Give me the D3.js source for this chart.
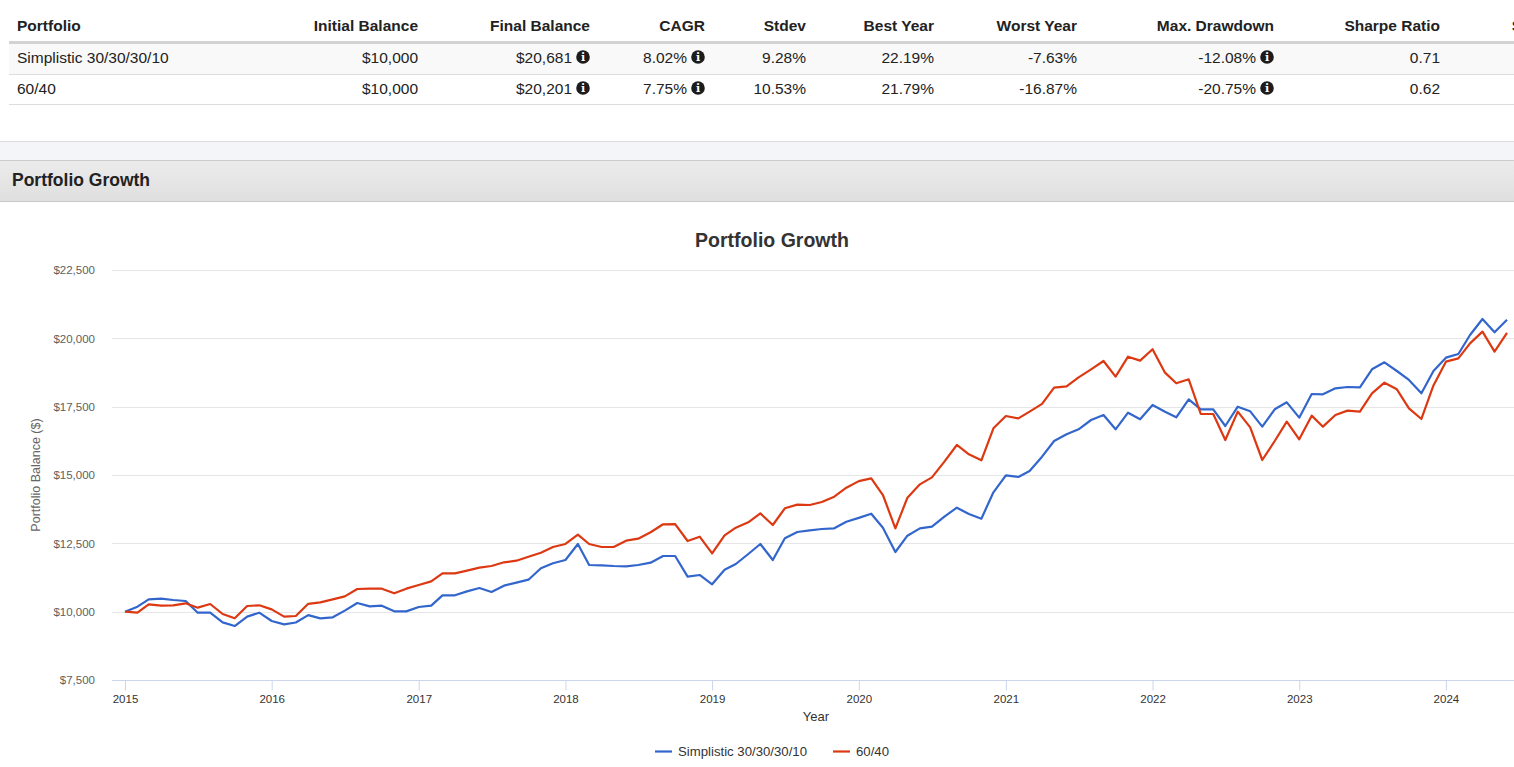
<!DOCTYPE html>
<html><head><meta charset="utf-8">
<script src="https://cdn.jsdelivr.net/npm/d3@7"></script>
<style>
html,body{margin:0;padding:0;background:#fff;overflow:hidden;}
svg{display:block;font-family:"Liberation Sans",Arial,Helvetica,sans-serif;}
</style></head><body>
<svg id="c" width="1514" height="767"></svg>
<script>
// ---------- DATA ----------
const tableColumns = ["Portfolio","Initial Balance","Final Balance","CAGR","Stdev","Best Year","Worst Year","Max. Drawdown","Sharpe Ratio","Sortino Ratio"];
const portfolioNames = ["Simplistic 30/30/30/10","60/40"];
const initialBalance = ["$10,000","$10,000"];
const finalBalance = ["$20,681","$20,201"];
const cagr = ["8.02%","7.75%"];
const stdev = ["9.28%","10.53%"];
const bestYear = ["22.19%","21.79%"];
const worstYear = ["-7.63%","-16.87%"];
const maxDrawdown = ["-12.08%","-20.75%"];
const sharpeRatio = ["0.71","0.62"];

const seriesNames = ["Simplistic 30/30/30/10","60/40"];
const simplisticValues = [
 10000,10183,10452,10475,10427,10390,9963,9963,9610,9475,9817,9963,9659,9537,9604,9872,
 9756,9793,10037,10317,10195,10220,10012,10012,10171,10220,10598,10598,10744,
 10865,10720,10951,11061,11170,11587,11770,11890,12476,11707,11696,11671,11660,11707,11792,12037,
 12037,11280,11342,11000,11536,11744,12110,12476,11890,12683,12915,12976,13024,13049,13292,
 13430,13584,13072,12183,12779,13049,13110,13475,13805,13573,13402,14367,14988,14927,15146,15670,
 16244,16488,16671,17012,17195,16671,17280,17037,17561,17317,17110,17769,17403,17403,16793,17500,
 17330,16768,17403,17659,17098,17964,17952,18171,18220,18208,18866,19122,18805,18476,17988,18805,
 19293,19427,20122,20707,20220,20681];
const sixtyFortyValues = [
 10000,9963,10269,10220,10232,10305,10146,10281,9915,9757,10207,10232,10085,9817,9841,10287,
 10342,10452,10561,10829,10841,10841,10671,10841,10976,11110,11403,11403,11500,
 11609,11671,11806,11865,12011,12158,12366,12476,12817,12476,12366,12366,12597,12670,12904,13197,
 13200,12585,12743,12134,12792,13072,13268,13597,13171,13781,13915,13902,14012,14207,14536,
 14775,14878,14268,13049,14170,14658,14914,15487,16098,15756,15537,16708,17159,17073,17317,17600,
 18195,18244,18573,18866,19170,18597,19329,19183,19600,18744,18356,18502,17232,17232,16281,17317,
 16740,15549,16244,16951,16305,17171,16768,17195,17354,17317,17988,18378,18134,17440,17049,18275,
 19146,19268,19817,20244,19512,20201];
const firstMonth = new Date(2015,0,1);
const lastMonth = new Date(2024,5,1);
const months = d3.timeMonth.range(firstMonth, d3.timeMonth.offset(lastMonth,1));
const yTickValues = [7500,10000,12500,15000,17500,20000,22500];
const xTickYears = [2015,2016,2017,2018,2019,2020,2021,2022,2023,2024];
const seriesColors = ["#3366cc","#dc3912"];

// ---------- DRAW ----------
const svg = d3.select("#c");
const W = 1514;

// ---- table ----
const colRight = [null,418,590,705,806,934,1077,1274,1440,1609];
const iconCols = new Set([2,3,7]);
const rows = portfolioNames.map((n,i)=>[n,initialBalance[i],finalBalance[i],cagr[i],stdev[i],bestYear[i],worstYear[i],maxDrawdown[i],sharpeRatio[i]]);

svg.append("rect").attr("x",9).attr("y",44).attr("width",W).attr("height",30).attr("fill","#f9f9f9");
svg.append("rect").attr("x",9).attr("y",41).attr("width",W).attr("height",3).attr("fill","#d3d3d3");
[74.5,104.5].forEach(y=>svg.append("line").attr("x1",9).attr("x2",W).attr("y1",y).attr("y2",y).attr("stroke","#dddddd"));

const hdr = svg.append("g").attr("font-size","15.5px").attr("font-weight","bold").attr("fill","#222");
tableColumns.forEach((c,j)=>{
  hdr.append("text").attr("x", j===0?17:colRight[j]).attr("y",30.5)
    .attr("text-anchor", j===0?"start":"end").text(c);
});
const rowY=[62.5,93.5];
rows.forEach((r,i)=>{
  const g = svg.append("g").attr("font-size","15.5px").attr("fill","#222");
  r.forEach((v,j)=>{
    if(j===0){ g.append("text").attr("x",17).attr("y",rowY[i]).text(v); return; }
    const hasIcon = iconCols.has(j);
    g.append("text").attr("x", hasIcon? colRight[j]-18 : colRight[j]).attr("y",rowY[i])
      .attr("text-anchor","end").text(v);
    if(hasIcon){
      const cx = colRight[j]-7, cy = rowY[i]-5.5;
      g.append("circle").attr("cx",cx).attr("cy",cy).attr("r",6.8).attr("fill","#1c1c1c");
      g.append("text").attr("x",cx).attr("y",cy+4.3).attr("text-anchor","middle")
        .attr("font-size","11px").attr("font-weight","bold").attr("font-family","'DejaVu Serif',serif")
        .attr("fill","#fff").text("i");
    }
  });
});

// ---- section header ----
svg.append("rect").attr("x",0).attr("y",141).attr("width",W).attr("height",19).attr("fill","#f4f5f8");
svg.append("line").attr("x1",0).attr("x2",W).attr("y1",141.5).attr("y2",141.5).attr("stroke","#dcdcdc");
const grad = svg.append("defs").append("linearGradient").attr("id","pg").attr("x1",0).attr("x2",0).attr("y1",0).attr("y2",1);
grad.append("stop").attr("offset","0").attr("stop-color","#ececec");
grad.append("stop").attr("offset","1").attr("stop-color","#dfdfdf");
svg.append("rect").attr("x",0).attr("y",160).attr("width",W).attr("height",41).attr("fill","url(#pg)");
svg.append("line").attr("x1",0).attr("x2",W).attr("y1",160.5).attr("y2",160.5).attr("stroke","#cccccc");
svg.append("line").attr("x1",0).attr("x2",W).attr("y1",201.5).attr("y2",201.5).attr("stroke","#c8c8c8");
svg.append("text").attr("x",12).attr("y",186).attr("font-size","17.5px").attr("font-weight","bold")
  .attr("fill","#222").text("Portfolio Growth");

// ---- chart ----
const plotL = 112, plotR = 1530;
const x = d3.scaleTime().domain([firstMonth,lastMonth]).range([125,1507]);
const y = d3.scaleLinear().domain([7500,22500]).range([680,270]);

svg.append("text").attr("x",772).attr("y",247).attr("text-anchor","middle")
  .attr("font-size","19.5px").attr("font-weight","bold").attr("fill","#333").text("Portfolio Growth");

// grid
svg.append("g").selectAll("line").data(yTickValues.slice(1)).join("line")
  .attr("x1",plotL).attr("x2",plotR).attr("y1",d=>Math.round(y(d))+0.5).attr("y2",d=>Math.round(y(d))+0.5)
  .attr("stroke","#e6e6e6");

// y axis labels
const yAxis = d3.axisLeft(y).tickValues(yTickValues).tickSize(0).tickPadding(0)
  .tickFormat(d=>"$"+d3.format(",")(d));
const yg = svg.append("g").attr("transform","translate(95,0)").call(yAxis);
yg.select(".domain").remove();
yg.selectAll("text").attr("font-size","11.5px").attr("fill","#606060").attr("font-family","'Liberation Sans',Arial,sans-serif");

svg.append("text").attr("transform","translate(40,475) rotate(-90)").attr("text-anchor","middle")
  .attr("font-size","12.5px").attr("fill","#666").text("Portfolio Balance ($)");

// x axis
const xAxis = d3.axisBottom(x).tickValues(xTickYears.map(yr=>new Date(yr,0,1)))
  .tickSize(10).tickPadding(4).tickFormat(d3.timeFormat("%Y"));
const xg = svg.append("g").attr("transform","translate(0,680.5)").call(xAxis);
xg.select(".domain").attr("d",`M${plotL},0H${plotR}`).attr("stroke","#ccd6eb");
xg.selectAll(".tick line").attr("stroke","#ccd6eb");
xg.selectAll("text").attr("font-size","11.5px").attr("fill","#333").attr("font-family","'Liberation Sans',Arial,sans-serif");

svg.append("text").attr("x",816).attr("y",720.5).attr("text-anchor","middle")
  .attr("font-size","13px").attr("fill","#333").text("Year");

// lines
const line = d3.line().x((d,i)=>x(months[i])).y(d=>y(d));
[simplisticValues, sixtyFortyValues].forEach((vals,k)=>{
  svg.append("path").datum(vals).attr("d",line).attr("fill","none")
    .attr("stroke",seriesColors[k]).attr("stroke-width",2.2).attr("stroke-linejoin","round");
});

// legend
const legX = [655,833];
seriesNames.forEach((n,k)=>{
  svg.append("line").attr("x1",legX[k]).attr("x2",legX[k]+17).attr("y1",751.5).attr("y2",751.5)
    .attr("stroke",seriesColors[k]).attr("stroke-width",2.2);
  svg.append("text").attr("x",legX[k]+23).attr("y",756).attr("font-size","13.2px").attr("fill","#333").text(n);
});
</script>
</body></html>
